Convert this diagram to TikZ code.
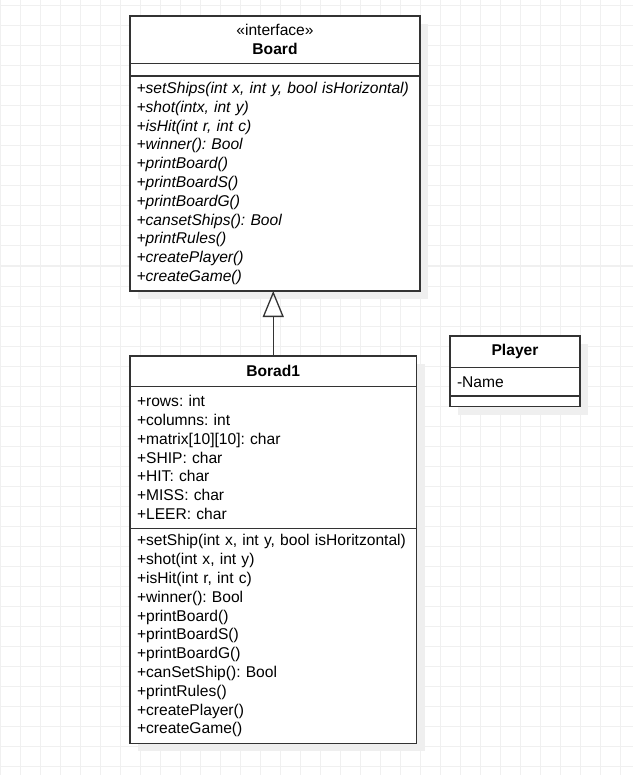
\documentclass[tikz,border=0pt]{standalone}
\usepackage{fontspec}
\setmainfont{Liberation Sans}
\usetikzlibrary{arrows.meta,shapes,positioning,shadows}

\definecolor{gridgray}{HTML}{F0F0F0}
\definecolor{shadowgray}{HTML}{EFEFEF}
\definecolor{linegray}{HTML}{333333}

\newcommand{\umltext}{\fontsize{15.6}{18.8}\selectfont\hyphenpenalty=10000\relax\frenchspacing}

\tikzset{
    gridline/.style={draw=gridgray, line width=1pt},
    umlpart/.style={draw=linegray, line width=1.3pt, fill=white, outer sep=0pt,
        inner xsep=7pt, inner ysep=0pt, align=left, font=\umltext,
        drop shadow={shadow xshift=8pt, shadow yshift=-8pt, fill=shadowgray, opacity=1}},
    umlhead/.style={umlpart, align=center, font=\fontsize{15.6}{19}\selectfont},
    inherit/.style={draw=linegray, line width=1.3pt, -{Triangle[open, width=21pt, length=26pt]}}
}

\begin{document}
\begin{tikzpicture}[x=1pt, y=-1pt]
    % Canvas and grid
    \useasboundingbox (0,0) rectangle (633,775);
    \fill[white] (0,0) rectangle (633,775);
    \foreach \gx in {0,...,31}
        \draw[gridline] (20*\gx+0.7,0) -- (20*\gx+0.7,775);
    \foreach \gy in {0,...,38}
        \draw[gridline] (0,20*\gy+6) -- (633,20*\gy+6);

    % Interface Board
    \node[umlhead, text width=277pt, inner xsep=6.5pt, minimum height=47.3pt, anchor=north west] (boardhead) at (130,16) {«interface»\\\textbf{Board}};
    \node[umlpart, text width=277pt, inner xsep=6.5pt, minimum height=12.7pt, below=0pt of boardhead] (boardattr) {};
    \node[umlpart, text width=277pt, inner xsep=6.5pt, minimum height=215pt, below=0pt of boardattr, font=\umltext\itshape] (boardmeth) {+setShips(int x, int y, bool isHorizontal)\\
        +shot(intx, int y)\\
        +isHit(int r, int c)\\
        +winner(): Bool\\
        +printBoard()\\
        +printBoardS()\\
        +printBoardG()\\
        +cansetShips(): Bool\\
        +printRules()\\
        +createPlayer()\\
        +createGame()};

    % Class Borad1
    \node[umlhead, text width=272.5pt, minimum height=30.7pt, anchor=north west] (boradhead) at (130,356) {\textbf{Borad1}};
    \node[umlpart, text width=272.5pt, minimum height=141.6pt, below=0pt of boradhead] (boradattr) {+rows: int\\
        +columns: int\\
        +matrix[10][10]: char\\
        +SHIP: char\\
        +HIT: char\\
        +MISS: char\\
        +LEER: char};
    \node[umlpart, text width=272.5pt, minimum height=215pt, below=0pt of boradattr] (boradmeth) {+setShip(int x, int y, bool isHoritzontal)\\
        +shot(int x, int y)\\
        +isHit(int r, int c)\\
        +winner(): Bool\\
        +printBoard()\\
        +printBoardS()\\
        +printBoardG()\\
        +canSetShip(): Bool\\
        +printRules()\\
        +createPlayer()\\
        +createGame()};

    % Class Player
    \node[umlhead, text width=116pt, minimum height=31.7pt, anchor=north west] (playerhead) at (450,336) {\textbf{Player}};
    \node[umlpart, text width=116pt, minimum height=28.3pt, below=0pt of playerhead] (playerattr) {-Name};
    \node[umlpart, text width=116pt, minimum height=10.7pt, below=0pt of playerattr] (playermeth) {};

    % Inheritance Borad1 -> Board
    \draw[inherit] (boradhead.north) -- (boradhead.north |- boardmeth.south);
\end{tikzpicture}
\end{document}
